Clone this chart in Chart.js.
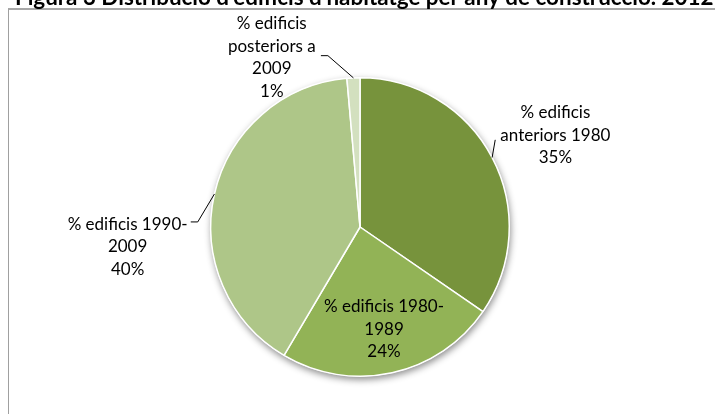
<!DOCTYPE html>
<html>
<head>
<meta charset="utf-8">
<script src="https://cdn.jsdelivr.net/npm/chart.js@4.4.1/dist/chart.umd.min.js"></script>
<style>
  html, body { margin: 0; padding: 0; background: #fff; }
  #wrap { position: relative; width: 715px; height: 414px; overflow: hidden; background: #fff; }
  #frame { position: absolute; left: 8px; top: 8px; width: 800px; height: 500px;
           border-left: 1px solid #a0a0a0; border-top: 2px solid #a8a8a8; box-sizing: border-box; }
  canvas { position: absolute; left: 0; top: 0; }
</style>
</head>
<body>
<div id="wrap">
  <div id="frame"></div>
  <canvas id="c" width="715" height="414"></canvas>
</div>
<script>
// ---- data ----
const titleText = "Figura 3 Distribució d'edificis d'habitatge per any de construcció. 2012";
const categories = [
  ["% edificis", "anteriors 1980"],
  ["% edificis 1980-", "1989"],
  ["% edificis 1990-", "2009"],
  ["% edificis", "posteriors a", "2009"]
];
const values = [34.6, 23.9, 40.1, 1.4];
const percentLabels = ["35%", "24%", "40%", "1%"];
const colors = ["#77933C", "#92B356", "#AEC688", "#D3E0BF"];

// label placement relative to pie center, in units of radius
const labelPos = [[1.309, -0.614], [0.161, 0.685], [-1.557, 0.132], [-0.591, -1.134]];
// leader line points after the edge point (relative to center, units of radius)
const leaders = [
  [[0.906, -0.584]],
  null,
  [[-1.087, -0.034], [-1.134, -0.034]],
  [[-0.215, -1.148], [-0.262, -1.148]]
];

const FONT = "Lato, 'Open Sans', sans-serif";

const shadowPlugin = {
  id: 'pieShadow',
  beforeDatasetsDraw(chart) {
    const arc = chart.getDatasetMeta(0).data[0];
    if (!arc) return;
    const ctx = chart.ctx;
    ctx.save();
    ctx.shadowColor = 'rgba(0,0,0,0.45)';
    ctx.shadowBlur = 7;
    ctx.shadowOffsetX = 1;
    ctx.shadowOffsetY = 3;
    ctx.fillStyle = '#ffffff';
    ctx.beginPath();
    ctx.arc(arc.x, arc.y, arc.outerRadius + 0.5, 0, Math.PI * 2);
    ctx.fill();
    ctx.restore();
  }
};

const labelPlugin = {
  id: 'pieLabels',
  afterDatasetsDraw(chart) {
    const ctx = chart.ctx;
    const meta = chart.getDatasetMeta(0);
    ctx.save();
    meta.data.forEach((arc, i) => {
      const cx = arc.x, cy = arc.y, r = arc.outerRadius;
      const mid = (arc.startAngle + arc.endAngle) / 2;
      if (leaders[i]) {
        ctx.beginPath();
        ctx.strokeStyle = '#000';
        ctx.lineWidth = 1;
        ctx.moveTo(cx + Math.cos(mid) * r, cy + Math.sin(mid) * r);
        leaders[i].forEach(p => ctx.lineTo(cx + p[0] * r, cy + p[1] * r));
        ctx.stroke();
      }
      const lines = categories[i].concat([percentLabels[i]]);
      const lh = 22.5;
      const lx = cx + labelPos[i][0] * r;
      const ly = cy + labelPos[i][1] * r - (lines.length - 1) * lh / 2;
      ctx.fillStyle = '#000';
      ctx.font = "17px " + FONT;
      ctx.textAlign = 'center';
      ctx.textBaseline = 'middle';
      lines.forEach((t, k) => ctx.fillText(t, lx, ly + k * lh));
    });
    // title (clipped at the top, as in the reference); sized to span x 15..714
    let fs = 18;
    ctx.font = "bold " + fs + "px " + FONT;
    const w = ctx.measureText(titleText).width;
    fs = fs * 699 / w;
    ctx.font = "bold " + fs.toFixed(2) + "px " + FONT;
    ctx.textAlign = 'left';
    ctx.textBaseline = 'alphabetic';
    ctx.fillText(titleText, 15, 5);
    ctx.restore();
  }
};

new Chart(document.getElementById('c'), {
  type: 'pie',
  data: {
    labels: categories.map(c => c.join(' ')),
    datasets: [{
      data: values,
      backgroundColor: colors,
      borderColor: '#ffffff',
      borderWidth: 1.5
    }]
  },
  options: {
    responsive: false,
    animation: false,
    layout: { padding: { left: 5, right: 0, top: 77, bottom: 37 } },
    plugins: { legend: { display: false }, tooltip: { enabled: false }, title: { display: false } }
  },
  plugins: [shadowPlugin, labelPlugin]
});
</script>
</body>
</html>
